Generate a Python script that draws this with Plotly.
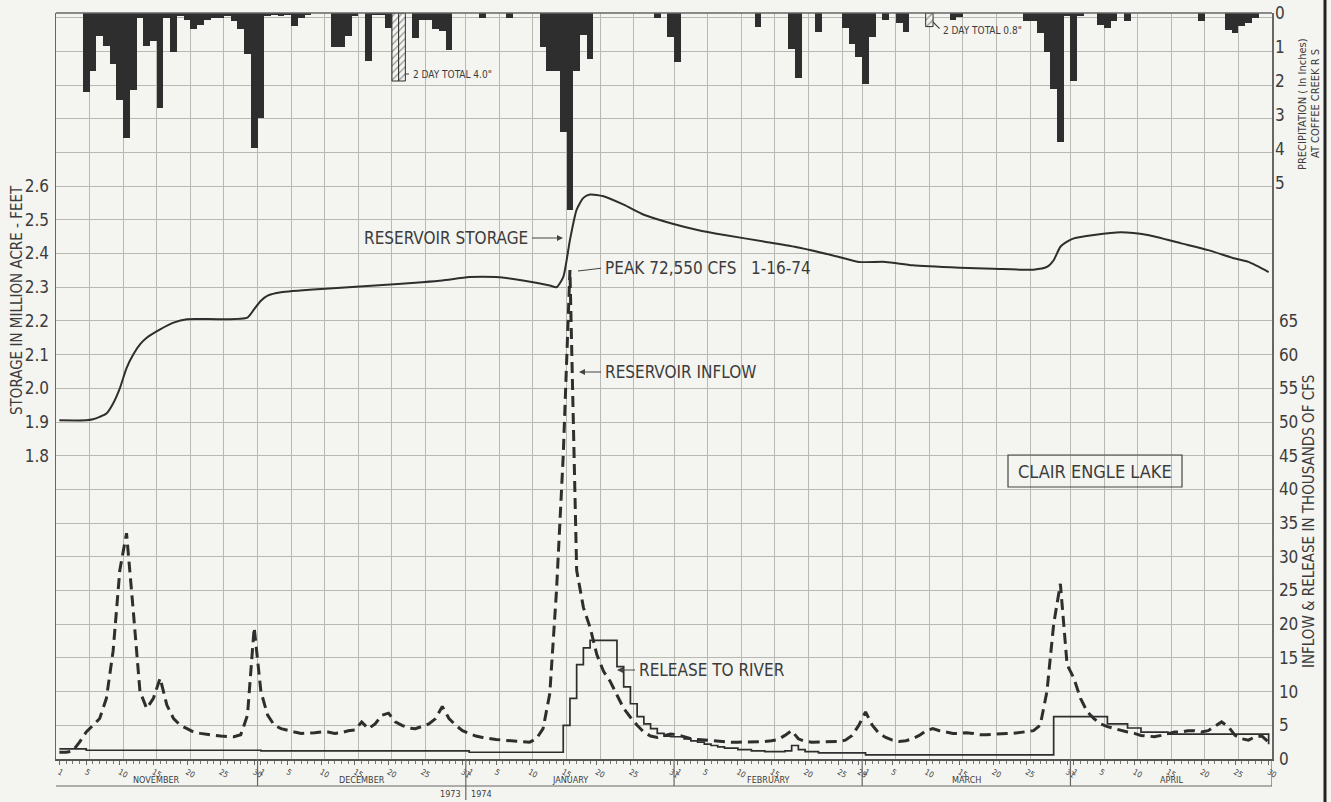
import plotly.graph_objects as go

# ---------------- data ----------------
# day index: Nov 1 1973 = 1 ... Apr 30 1974 = 181
month_names = ["NOVEMBER", "DECEMBER", "JANUARY", "FEBRUARY", "MARCH", "APRIL"]
month_lengths = [30, 31, 31, 28, 31, 30]
month_day_labels = [
    [1, 5, 10, 15, 20, 25, 30],
    [1, 5, 10, 15, 20, 25, 31],
    [1, 5, 10, 15, 20, 25, 31],
    [1, 5, 10, 15, 20, 25, 28],
    [1, 5, 10, 15, 20, 25, 31],
    [1, 5, 10, 15, 20, 25, 30],
]

precip_days = [5, 6, 7, 8, 9, 10, 11, 12, 13, 14, 15, 16, 17, 18, 19, 20, 21, 22, 23, 24, 25, 26, 27, 28,
               29, 30, 31, 32, 33, 34, 35, 36, 37, 38, 42, 43, 44, 45, 47, 48, 49, 50, 54, 55, 56, 57, 58,
               59, 64, 68, 73, 74, 75, 76, 77, 78, 79, 80, 90, 92, 93, 105, 110, 111, 114, 118, 119, 120,
               121, 122, 124, 126, 127, 134, 135, 145, 146, 147, 148, 149, 150, 151, 152, 153, 156, 157,
               158, 160, 171, 175, 176, 177, 178, 179]
precip_in = [2.33, 1.72, 0.68, 0.97, 1.5, 2.57, 3.68, 2.27, 0.15, 0.97, 0.82, 2.8, 0.15, 1.16, 0.1, 0.2,
             0.48, 0.34, 0.2, 0.15, 0.15, 0.1, 0.24, 0.48, 1.21, 3.97, 3.1, 0.1, 0.05, 0.1, 0.05, 0.39,
             0.15, 0.05, 1.0, 1.0, 0.68, 0.1, 1.4, 0.05, 0.05, 0.44, 0.73, 0.2, 0.2, 0.48, 0.53, 1.1,
             0.15, 0.15, 1.0, 1.7, 1.7, 3.5, 5.8, 1.7, 0.65, 1.35, 0.15, 0.71, 1.43, 0.42, 1.05, 1.92,
             0.56, 0.45, 0.9, 1.3, 2.1, 0.7, 0.2, 0.3, 0.55, 0.2, 0.12, 0.24, 0.24, 0.58, 1.16, 2.23,
             3.78, 0.1, 1.99, 0.1, 0.34, 0.44, 0.24, 0.24, 0.24, 0.5, 0.58, 0.39, 0.29, 0.15]

# two-day totals drawn hatched
hatched_days = [51, 52, 130.5]
hatched_in = [2.0, 2.0, 0.4]
hatched_width = [1.0, 1.0, 1.1]

storage_days = [1, 5, 6, 7, 8, 9, 10, 11, 12, 13, 14, 16, 18, 20, 25, 29, 30, 31, 32, 34, 40, 48, 55, 58,
                62, 66, 70, 74, 75, 76, 77, 78, 79, 80, 82, 85, 88, 92, 96, 100, 106, 111, 116, 120, 124,
                128, 135, 140, 146, 148, 149, 150, 151, 152, 155, 159, 163, 168, 172, 176, 178, 181]
storage_maf = [1.905, 1.905, 1.908, 1.915, 1.925, 1.955, 2.0, 2.06, 2.10, 2.13, 2.15, 2.175, 2.195, 2.205,
               2.205, 2.21, 2.235, 2.26, 2.275, 2.285, 2.295, 2.305, 2.315, 2.32, 2.33, 2.33, 2.32, 2.305,
               2.30, 2.33, 2.44, 2.53, 2.565, 2.575, 2.57, 2.545, 2.515, 2.49, 2.47, 2.455, 2.435, 2.418,
               2.395, 2.375, 2.375, 2.365, 2.358, 2.355, 2.352, 2.36, 2.38, 2.42, 2.435, 2.445, 2.455,
               2.463, 2.455, 2.43, 2.41, 2.385, 2.375, 2.345]

inflow_days = list(range(1, 182))
inflow_kcfs = [
    # November
    1.0, 1.0, 1.2, 2.5, 4.0, 5.0, 6.0, 9.0, 16, 28, 33.5, 22, 10, 7.5, 9, 12, 8, 6, 5, 4.5,
    4.0, 3.8, 3.6, 3.5, 3.4, 3.3, 3.3, 3.6, 6.5, 19.5,
    # December
    10, 6.5, 5.0, 4.5, 4.2, 4.0, 3.8, 3.8, 3.9, 4.0, 4.0, 3.8, 3.9, 4.2, 4.3, 5.5, 4.5, 5.2, 6.5, 6.8,
    5.5, 5.0, 4.6, 4.5, 4.8, 5.2, 6.0, 7.8, 6.0, 5.0, 4.2,
    # January
    3.8, 3.4, 3.2, 3.0, 2.9, 2.8, 2.7, 2.6, 2.6, 2.5, 3.0, 4.5, 9.7, 25, 45, 72.55, 28, 22.5, 19.5, 15.5,
    13, 11.5, 9.5, 7.5, 6.2, 5.0, 4.0, 3.4, 3.2, 3.4, 3.7,
    # February
    3.6, 3.3, 3.0, 2.9, 2.8, 2.7, 2.6, 2.6, 2.5, 2.5, 2.5, 2.5, 2.6, 2.6, 2.7, 2.9, 3.5, 4.2, 3.0, 2.6,
    2.5, 2.5, 2.6, 2.5, 2.6, 2.8, 3.5, 5.0,
    # March
    7.0, 5.0, 3.8, 3.2, 2.8, 2.6, 2.7, 3.0, 3.5, 4.2, 4.5, 4.2, 4.0, 3.8, 3.8, 3.9, 3.8, 3.6, 3.6, 3.7,
    3.7, 3.8, 3.8, 3.9, 4.0, 4.2, 5.0, 10, 20, 26, 14,
    # April
    12, 9, 7, 6, 5.2, 4.8, 4.5, 4.2, 4.0, 3.8, 3.5, 3.4, 3.3, 3.5, 3.8, 4.0, 4.0, 4.2, 4.2, 4.0,
    4.2, 4.8, 5.5, 4.8, 3.5, 3.0, 2.8, 3.3, 3.4, 2.5,
]

release_days = [1, 5, 31, 62, 76, 77, 78, 79, 80, 84, 85, 86, 87, 88, 89, 90, 91, 92, 94, 95, 96, 97, 98,
                99, 100, 102, 104, 106, 109, 110, 111, 112, 114, 121, 149, 157, 160, 162, 166, 181]
release_kcfs = [1.5, 1.3, 1.2, 1.0, 5.0, 9.0, 14.0, 16.5, 17.6, 13.7, 10.7, 8.2, 6.3, 5.2, 4.5, 3.8, 3.4,
                3.3, 3.0, 2.7, 2.5, 2.2, 2.0, 1.8, 1.6, 1.4, 1.2, 1.1, 1.2, 2.0, 1.4, 1.1, 0.9, 0.6, 6.3,
                5.2, 4.6, 4.0, 3.7, 2.2]

flow_ticks = list(range(0, 70, 5))
storage_ticks = [1.8, 1.9, 2.0, 2.1, 2.2, 2.3, 2.4, 2.5, 2.6]
precip_ticks = [0, 1, 2, 3, 4, 5]

# ---------------- layout geometry ----------------
FIG_W, FIG_H = 1331, 802
L, R, T, B = 56, 1272, 13, 759
W, H = R - L, B - T
GRID = 33.7                          # graph-paper cell, px
FLOW_PX = GRID / 5.0                 # px per 1000 cfs
STOR_PX = GRID / 0.1                 # px per MAF
PREC_PX = 34.0                       # px per inch

flow_range = [0, H / FLOW_PX]
stor_bottom = 2.6 - (17 * GRID) / STOR_PX
stor_range = [stor_bottom, stor_bottom + H / STOR_PX]
prec_range = [H / PREC_PX, 0]


def pxx(x):
    return (x - L) / W


def pxy(y):
    return (B - y) / H


INK = "#2e2e2e"
TXT = "#3c3c3c"
GRIDC = "#b9b9b4"
BG = "#f4f4f0"
FONT = "DejaVu Sans Condensed, Liberation Sans Narrow, Arial Narrow, sans-serif"

# month boundaries / grid
month_starts = []
s = 1
for n in month_lengths:
    month_starts.append(s)
    s += n
grid_x = []
for st, n in zip(month_starts, month_lengths):
    grid_x += [st - 0.5 + k for k in (0, 5, 10, 15, 20, 25)]
grid_x.append(181.5)

day_tickvals, day_ticktext = [], []
for st, labs in zip(month_starts, month_day_labels):
    for d in labs:
        day_tickvals.append(st + d - 1)
        day_ticktext.append(str(d))

fig = go.Figure()

# precipitation (hangs from the top)
fig.add_trace(go.Bar(x=precip_days, y=precip_in, base=0, width=1.0, xaxis="x2", yaxis="y3",
                     marker=dict(color=INK, line=dict(width=0)), showlegend=False, hoverinfo="skip"))
fig.add_trace(go.Bar(x=hatched_days, y=hatched_in, base=0, width=hatched_width, xaxis="x2", yaxis="y3",
                     marker=dict(color=BG, line=dict(color=INK, width=1),
                                 pattern=dict(shape="/", fgcolor=INK, bgcolor=BG, size=5, solidity=0.25)),
                     showlegend=False, hoverinfo="skip"))

# storage
fig.add_trace(go.Scatter(x=storage_days, y=storage_maf, mode="lines", xaxis="x", yaxis="y2",
                         line=dict(color=INK, width=2, shape="spline", smoothing=0.6),
                         showlegend=False, hoverinfo="skip"))
# release
fig.add_trace(go.Scatter(x=release_days, y=release_kcfs, mode="lines", xaxis="x", yaxis="y",
                         line=dict(color=INK, width=1.7, shape="hv"), showlegend=False, hoverinfo="skip"))
# inflow
fig.add_trace(go.Scatter(x=inflow_days, y=inflow_kcfs, mode="lines", xaxis="x", yaxis="y",
                         line=dict(color=INK, width=3, dash="11px,6px"), showlegend=False, hoverinfo="skip"))

tickfont = dict(family=FONT, size=17, color=TXT)

fig.update_layout(
    width=FIG_W, height=FIG_H, autosize=False,
    margin=dict(l=L, r=FIG_W - R, t=T, b=FIG_H - B, pad=0, autoexpand=False),
    paper_bgcolor=BG, plot_bgcolor=BG,
    bargap=0, barmode="overlay",
    xaxis=dict(range=[0.5, 181.5], tickmode="array", tickvals=grid_x, showticklabels=False, ticks="",
               showgrid=True, gridcolor=GRIDC, gridwidth=1, zeroline=False, showline=False,
               fixedrange=True, automargin=False),
    xaxis2=dict(range=[0.5, 181.5], overlaying="x", anchor="y", side="bottom", tickmode="array",
                tickvals=day_tickvals, ticktext=day_ticktext, ticks="outside", ticklen=4, tickwidth=1,
                tickcolor="#666", tickfont=dict(family=FONT, size=8, color=TXT), ticklabelstandoff=0,
                minor=dict(tickmode="linear", tick0=1, dtick=1, ticks="outside", ticklen=3, tickcolor="#777"),
                showgrid=False, zeroline=False, showline=True, linecolor="#555", linewidth=1.5,
                fixedrange=True, automargin=False),
    yaxis=dict(range=flow_range, side="right", tickmode="array",
               tickvals=[v for v in range(0, 111, 5)],
               ticktext=[str(v) if v in flow_ticks else "" for v in range(0, 111, 5)],
               ticks="", tickfont=tickfont, showgrid=True, gridcolor=GRIDC, gridwidth=1, zeroline=False,
               showline=True, linecolor="#666", linewidth=1.5, fixedrange=True, automargin=False,
               ticklabelstandoff=2),
    yaxis2=dict(range=stor_range, overlaying="y", side="left", tickmode="array",
                tickvals=storage_ticks, ticktext=[f"{v:.1f}" for v in storage_ticks], ticks="",
                tickfont=tickfont, showgrid=False, zeroline=False, showline=True, linecolor="#666",
                linewidth=1.5, fixedrange=True, automargin=False, ticklabelstandoff=2),
    yaxis3=dict(range=prec_range, overlaying="y", side="right", tickmode="array", tickvals=precip_ticks,
                ticktext=[str(v) for v in precip_ticks], ticks="", tickfont=tickfont, showgrid=False,
                zeroline=False, showline=False, fixedrange=True, automargin=False, ticklabelstandoff=2),
)

shapes = []
# top border
shapes.append(dict(type="line", xref="paper", yref="paper", x0=0, x1=1, y0=1, y1=1,
                   line=dict(color="#666", width=1.5)))
# calendar box under the axis
box_bottom = pxy(786)
shapes.append(dict(type="line", xref="x", yref="paper", x0=0.0, x1=181.5, y0=box_bottom, y1=box_bottom,
                   line=dict(color="#666", width=1.2)))
for st in month_starts + [182]:
    y_end = pxy(800) if st == month_starts[2] else box_bottom
    x_line = 0.0 if st == 1 else st - 0.5
    shapes.append(dict(type="line", xref="x", yref="paper", x0=x_line, x1=x_line, y0=0, y1=y_end,
                       line=dict(color="#666", width=1.2)))
# scan edge at right
shapes.append(dict(type="line", xref="paper", yref="paper", x0=pxx(1325), x1=pxx(1325), y0=pxy(0),
                   y1=pxy(802), line=dict(color="#222", width=3)))
# lake name box
shapes.append(dict(type="rect", xref="paper", yref="paper", x0=pxx(1008), x1=pxx(1182), y0=pxy(487),
                   y1=pxy(455), line=dict(color="#444", width=1.2), fillcolor="rgba(0,0,0,0)"))
fig.update_layout(shapes=shapes)

ann = []
lab = dict(family=FONT, size=17, color=TXT)
small = dict(family=FONT, size=10, color=TXT)


def arrow_note(text, tipx, tipy, ax, ay=0, font=lab, head=2, anchor="left"):
    ann.append(dict(text=text, xref="paper", yref="paper", x=pxx(tipx), y=pxy(tipy), ax=ax, ay=ay,
                    axref="pixel", ayref="pixel", showarrow=True, arrowhead=head, arrowsize=1,
                    arrowwidth=1.2, arrowcolor="#444", font=font, xanchor=anchor, yanchor="middle",
                    standoff=0, startstandoff=2))


arrow_note("RESERVOIR STORAGE", 563, 238, -33, 0, anchor="right")
arrow_note("PEAK 72,550 CFS   1-16-74", 578, 271, 25, -3, head=0)
arrow_note("RESERVOIR INFLOW", 579, 372, 24, 0)
arrow_note("RELEASE TO RIVER", 617, 670, 20, 0)
arrow_note('2 DAY TOTAL 4.0"', 405, 74, 6, 0, font=small, head=0)
arrow_note('2 DAY TOTAL 0.8"', 933, 22, 8, 8, font=small, head=0)

ann.append(dict(text="CLAIR ENGLE LAKE", xref="paper", yref="paper", x=pxx(1095), y=pxy(471),
                showarrow=False, font=dict(family=FONT, size=18, color=TXT), xanchor="center",
                yanchor="middle"))

# axis titles
ann.append(dict(text="STORAGE IN MILLION ACRE - FEET", xref="paper", yref="paper", x=pxx(17),
                y=pxy(300), textangle=-90, showarrow=False, font=dict(family=FONT, size=15, color=TXT),
                xanchor="center", yanchor="middle"))
ann.append(dict(text="INFLOW &amp; RELEASE IN THOUSANDS OF CFS", xref="paper", yref="paper", x=pxx(1309),
                y=pxy(522), textangle=-90, showarrow=False, font=dict(family=FONT, size=15, color=TXT),
                xanchor="center", yanchor="middle"))
ann.append(dict(text="PRECIPITATION ( In Inches)", xref="paper", yref="paper", x=pxx(1303),
                y=pxy(104), textangle=-90, showarrow=False, font=dict(family=FONT, size=11, color=TXT),
                xanchor="center", yanchor="middle"))
ann.append(dict(text="AT COFFEE CREEK R S", xref="paper", yref="paper", x=pxx(1316),
                y=pxy(104), textangle=-90, showarrow=False, font=dict(family=FONT, size=11, color=TXT),
                xanchor="center", yanchor="middle"))

# month names and years
for st, n, name in zip(month_starts, month_lengths, month_names):
    ann.append(dict(text=name, xref="x", yref="paper", x=st - 0.5 + n / 2.0, y=pxy(779.5), showarrow=False,
                    font=dict(family=FONT, size=9, color=TXT), xanchor="center", yanchor="middle"))
ann.append(dict(text="1973", xref="x", yref="paper", x=month_starts[2] - 0.9, y=pxy(794), showarrow=False,
                font=dict(family=FONT, size=9, color=TXT), xanchor="right", yanchor="middle"))
ann.append(dict(text="1974", xref="x", yref="paper", x=month_starts[2] - 0.1, y=pxy(794), showarrow=False,
                font=dict(family=FONT, size=9, color=TXT), xanchor="left", yanchor="middle"))

fig.update_layout(annotations=ann)

fig.write_html("out.html", config={"displayModeBar": False, "staticPlot": True})

# the page's default 8px body margin would shift the figure; remove it
with open("out.html", "r", encoding="utf-8") as fh:
    page = fh.read()
page = page.replace("<body>", '<body style="margin:0;padding:0;overflow:hidden;">', 1)
page = page.replace("<head>", "<head><style>html,body{margin:0;padding:0;}</style>", 1)
with open("out.html", "w", encoding="utf-8") as fh:
    fh.write(page)
